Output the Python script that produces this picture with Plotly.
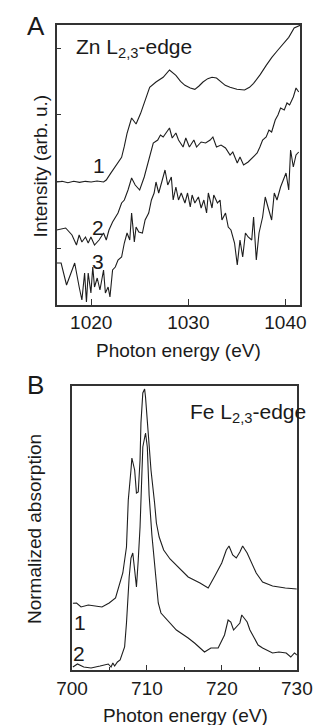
import plotly.graph_objects as go

# ---------------- Panel A: Zn L2,3-edge ----------------
zn_e1 = [1016.44, 1017.0, 1017.6, 1018.2, 1018.8, 1019.4, 1020.0, 1020.6, 1021.27, 1021.55,
         1022.0, 1022.48, 1022.8, 1023.13, 1023.4, 1023.69, 1024.16, 1024.62, 1025.09, 1025.55,
         1026.02, 1026.67, 1027.41, 1028.06, 1028.72, 1029.2, 1029.65, 1030.2, 1030.67, 1031.1,
         1031.51, 1032.0, 1032.44, 1032.9, 1033.37, 1033.8, 1034.3, 1035.0, 1035.79, 1036.3,
         1036.72, 1037.4, 1038.02, 1038.6, 1039.23, 1039.8, 1040.34, 1040.9, 1041.5]
zn_i1 = [0.99, 1.0, 0.98, 1.0, 0.985, 1.0, 0.99, 1.005, 0.99, 1.02,
         1.12, 1.22, 1.28, 1.36, 1.52, 1.72, 1.95, 1.86, 2.02, 2.22,
         2.41, 2.49, 2.56, 2.67, 2.59, 2.50, 2.44, 2.40, 2.38, 2.43,
         2.49, 2.54, 2.56, 2.55, 2.49, 2.44, 2.41, 2.38, 2.37, 2.41,
         2.47, 2.60, 2.74, 2.86, 2.97, 3.07, 3.16, 3.30, 3.34]

zn_e2 = [1016.44, 1016.90, 1017.37, 1018.02, 1018.48, 1018.76, 1019.04, 1019.41, 1019.69, 1019.97,
         1020.34, 1020.81, 1021.27, 1021.55, 1021.83, 1022.20, 1022.48, 1022.76, 1023.13, 1023.41,
         1023.79, 1024.16, 1024.53, 1024.99, 1025.46, 1025.92, 1026.39, 1026.85, 1027.13, 1027.41,
         1027.78, 1028.06, 1028.34, 1028.72, 1028.99, 1029.46, 1029.74, 1030.11, 1030.57, 1030.85,
         1031.32, 1031.78, 1032.25, 1032.53, 1032.90, 1033.37, 1033.83, 1034.30, 1034.58, 1035.04,
         1035.32, 1035.69, 1036.16, 1036.62, 1037.09, 1037.37, 1037.65, 1038.02, 1038.30, 1038.58,
         1038.95, 1039.23, 1039.50, 1039.88, 1040.16, 1040.43, 1040.81, 1041.09, 1041.37]
zn_i2 = [0.27, 0.285, 0.30, 0.195, 0.045, 0.195, 0.09, 0.165, 0.075, 0.165,
         0.045, 0.12, 0.225, 0.12, 0.27, 0.39, 0.465, 0.525, 0.675, 0.72,
         0.87, 1.05, 0.945, 0.87, 1.065, 1.32, 1.575, 1.62, 1.695, 1.665,
         1.74, 1.80, 1.65, 1.725, 1.62, 1.515, 1.65, 1.515, 1.62, 1.515,
         1.59, 1.575, 1.62, 1.665, 1.515, 1.545, 1.50, 1.395, 1.44, 1.275,
         1.365, 1.245, 1.29, 1.365, 1.425, 1.515, 1.62, 1.665, 1.77, 1.74,
         1.92, 1.995, 2.10, 2.07, 2.175, 2.145, 2.265, 2.40, 2.34]

zn_e3 = [1016.44, 1016.90, 1017.46, 1018.30, 1018.76, 1019.04, 1019.32, 1019.51, 1019.69, 1019.97,
         1020.16, 1020.34, 1020.62, 1020.90, 1021.27, 1021.46, 1021.74, 1021.93, 1022.20, 1022.48,
         1022.76, 1023.13, 1023.41, 1023.69, 1023.97, 1024.16, 1024.44, 1024.62, 1024.90, 1025.27,
         1025.55, 1025.92, 1026.20, 1026.48, 1026.67, 1026.95, 1027.32, 1027.60, 1027.88, 1028.25,
         1028.44, 1028.72, 1028.99, 1029.27, 1029.65, 1029.92, 1030.20, 1030.39, 1030.67, 1031.04,
         1031.32, 1031.60, 1031.88, 1032.06, 1032.44, 1032.62, 1033.00, 1033.27, 1033.46, 1033.83,
         1034.11, 1034.39, 1034.76, 1035.04, 1035.32, 1035.60, 1035.88, 1036.16, 1036.53, 1036.72,
         1037.00, 1037.28, 1037.65, 1037.92, 1038.20, 1038.58, 1038.85, 1039.13, 1039.50, 1039.78,
         1040.06, 1040.34, 1040.53, 1040.81, 1041.09, 1041.37]
zn_i3 = [-0.225, -0.225, -0.555, -0.225, -0.585, -0.78, -0.375, -0.81, -0.375, -0.675,
         -0.285, -0.585, -0.45, -0.63, -0.33, -0.675, -0.585, -0.735, -0.33, -0.285,
         -0.18, -0.135, 0.075, 0.225, 0.12, 0.525, 0.09, 0.315, 0.24, 0.225,
         0.42, 0.525, 0.72, 0.825, 0.99, 0.825, 1.02, 1.17, 0.945, 1.065,
         0.72, 0.915, 0.72, 0.825, 0.675, 0.825, 0.615, 0.795, 0.675, 0.765,
         0.60, 0.72, 0.525, 0.825, 0.60, 0.795, 0.675, 0.72, 0.42, 0.525,
         0.315, 0.27, 0.075, -0.255, 0.12, -0.135, 0.225, 0.165, 0.12, 0.465,
         -0.18, 0.225, 0.465, 0.765, 0.615, 0.42, 0.825, 0.72, 0.915, 1.02,
         1.125, 0.87, 1.47, 1.215, 1.395, 1.44]

zn_xticks = [1020, 1030, 1040]
zn_yticks = [0, 1, 2, 3]

# ---------------- Panel B: Fe L2,3-edge ----------------
fe_e1 = [700.12, 700.61, 701.21, 702.18, 704.0, 704.96, 705.81, 706.42, 706.78, 707.27,
         707.51, 707.87, 707.99, 708.36, 708.60, 708.84, 709.08, 709.20, 709.45, 709.69,
         709.81, 710.17, 710.54, 711.02, 711.26, 711.63, 712.23, 713.08, 714.29, 715.50,
         717.08, 718.17, 719.13, 719.98, 720.59, 720.95, 721.44, 721.92, 722.40, 722.77,
         723.37, 723.98, 724.58, 725.43, 726.76, 728.46, 730.0]
fe_a1 = [0.667, 0.67, 0.63, 0.65, 0.63, 0.67, 0.72, 0.88, 0.97, 1.23,
         1.70, 2.00, 2.12, 2.00, 1.77, 1.78, 2.10, 2.47, 2.77, 2.81,
         2.73, 2.37, 2.00, 1.67, 1.47, 1.33, 1.20, 1.11, 1.02, 0.93,
         0.87, 0.82, 0.95, 1.07, 1.20, 1.24, 1.15, 1.12, 1.18, 1.24,
         1.17, 1.07, 0.97, 0.88, 0.84, 0.82, 0.81]

fe_e2 = [700.12, 700.73, 701.57, 702.54, 703.75, 704.84, 705.21, 705.45, 705.69, 706.06,
         706.42, 706.78, 707.02, 707.27, 707.39, 707.63, 707.87, 708.11, 708.36, 708.60,
         708.84, 709.08, 709.45, 709.81, 710.05, 710.29, 710.66, 711.02, 711.51, 711.87,
         712.72, 713.93, 715.50, 716.35, 717.68, 718.53, 719.50, 719.86, 720.35, 720.83,
         721.19, 721.56, 721.92, 722.40, 722.65, 723.01, 723.37, 723.74, 724.22, 724.83,
         725.43, 726.76, 727.61, 728.58, 729.19, 729.68, 730.04]
fe_a2 = [0.03, 0.06, 0.03, 0.02, 0.04, 0.06, 0.03, 0.07, 0.04, 0.08,
         0.10, 0.17, 0.23, 0.47, 0.67, 0.93, 1.12, 1.17, 1.00, 0.83,
         1.10, 1.43, 2.23, 2.37, 2.23, 1.75, 1.35, 1.07, 0.67, 0.57,
         0.50, 0.40, 0.32, 0.27, 0.18, 0.22, 0.22, 0.27, 0.35, 0.50,
         0.48, 0.40, 0.43, 0.47, 0.55, 0.52, 0.48, 0.40, 0.33, 0.25,
         0.22, 0.17, 0.18, 0.17, 0.13, 0.17, 0.15]

fe_xticks = [700, 710, 720, 730]
fe_minor_ticks = [705, 715, 725]

W, H = 330, 725
FONT = "Liberation Sans, Arial, sans-serif"
LINE = dict(color="#1e1e1e", width=1.1)
AX = "#333333"

fig = go.Figure()
for xs, ys in [(zn_e1, zn_i1), (zn_e2, zn_i2), (zn_e3, zn_i3)]:
    fig.add_trace(go.Scatter(x=xs, y=ys, mode="lines", line=LINE,
                             xaxis="x", yaxis="y", showlegend=False, hoverinfo="skip"))
for xs, ys in [(fe_e1, fe_a1), (fe_e2, fe_a2)]:
    fig.add_trace(go.Scatter(x=xs, y=ys, mode="lines", line=LINE,
                             xaxis="x2", yaxis="y2", showlegend=False, hoverinfo="skip"))

def px(x):
    return x / W

def py(y):
    return 1 - y / H

common = dict(showline=True, mirror=True, linecolor=AX, linewidth=1.6,
              showgrid=False, zeroline=False, ticks="inside", tickcolor=AX,
              tickwidth=1.3, tickfont=dict(family=FONT, size=19, color="#1a1a1a"))

fig.update_layout(
    width=W, height=H,
    margin=dict(l=0, r=0, t=0, b=0),
    paper_bgcolor="white", plot_bgcolor="white",
    xaxis=dict(domain=[px(45), px(314.5)], range=[1016.44, 1041.5], anchor="y",
               tickvals=zn_xticks, ticklen=6, **common),
    yaxis=dict(domain=[py(304.5), py(25)], range=[-0.8475, 3.345], anchor="x",
               tickvals=zn_yticks, ticklen=5, showticklabels=False,
               **{k: v for k, v in common.items() if k != "tickfont"}),
    xaxis2=dict(domain=[px(62), px(311)], range=[700, 730], anchor="y2",
                tickvals=fe_xticks, ticklen=5,
                minor=dict(tickvals=fe_minor_ticks, ticks="inside", ticklen=3,
                           tickcolor=AX, tickwidth=1.2),
                **common),
    yaxis2=dict(domain=[py(670), py(386)], range=[0, 2.84], anchor="x2",
                showticklabels=False, ticks="",
                **{k: v for k, v in common.items() if k not in ("tickfont", "ticks")}),
)

ann = []
def text(t, x, y, size, xanchor="center", yanchor="middle", angle=0):
    ann.append(dict(text=t, x=px(x), y=py(y), xref="paper", yref="paper",
                    xanchor=xanchor, yanchor=yanchor, showarrow=False, textangle=angle,
                    font=dict(family=FONT, size=size, color="#1a1a1a")))

text("A", 22, 26, 26)
text("B", 22, 385, 26)
text("Zn L<sub>2,3</sub>-edge", 64, 48, 21, xanchor="left")
text("Fe L<sub>2,3</sub>-edge", 190, 413, 21, xanchor="left")
text("Intensity (arb. u.)", 27, 166, 19, angle=-90)
text("Photon energy (eV)", 180, 350, 19)
text("Normalized absorption", 20, 529, 19, angle=-90)
text("Photon energy (eV)", 188, 715, 19)
text("1", 92, 165, 21)
text("2", 91, 227, 21)
text("3", 91, 262, 21)
text("1", 71, 622, 21)
text("2", 70, 653, 21)
fig.update_layout(annotations=ann)

fig.write_html("out.html", config={"displayModeBar": False},
               post_script="document.body.style.margin='0';document.body.style.padding='0';")
